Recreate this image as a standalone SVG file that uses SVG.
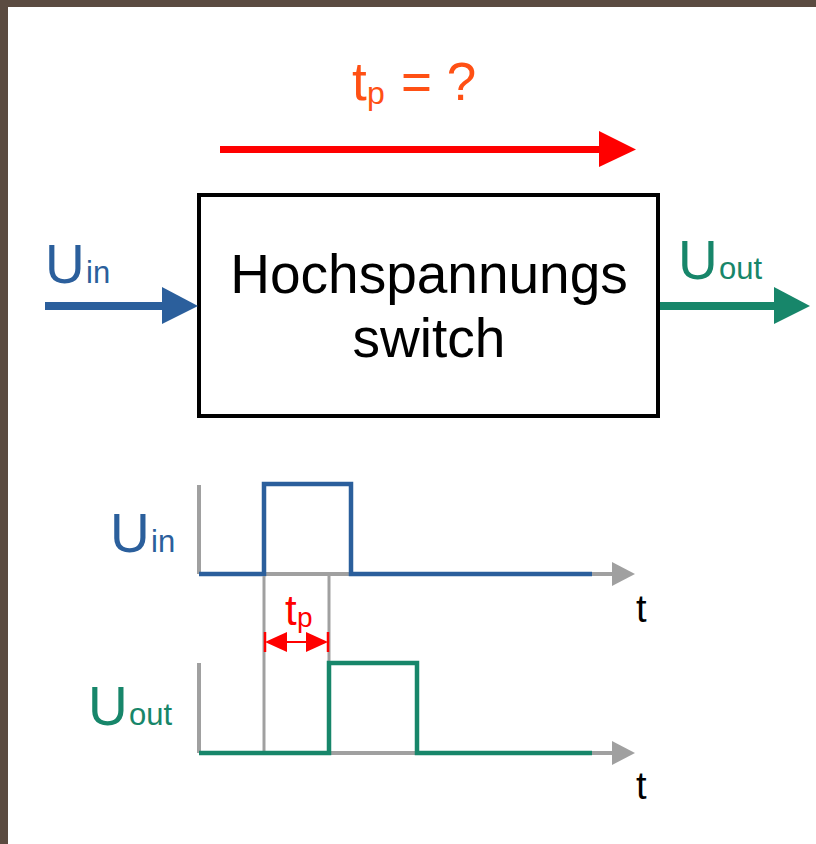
<svg xmlns="http://www.w3.org/2000/svg" width="816" height="844" viewBox="0 0 816 844">
<style>
text{font-family:"Liberation Sans",Arial,sans-serif}
.blue{fill:#2b5f9c}
.green{fill:#17866a}
.gray{stroke:#a0a0a0;fill:none}
.big{font-size:55px}
.sub{font-size:31px}
</style>
<rect x="0" y="0" width="816" height="844" fill="#5b4b41"/>
<rect x="8" y="7" width="808" height="837" fill="#ffffff"/>

<g id="title">
<text x="352" y="100" font-size="53" fill="#ff5014">t</text>
<text x="367" y="104" font-size="32" fill="#ff5014">p</text>
<text x="401" y="100" font-size="53" fill="#ff5014">= ?</text>
</g>

<g id="switch">
<rect x="199" y="195" width="459" height="221" fill="#ffffff" stroke="#000000" stroke-width="4"/>
<text x="429" y="293" font-size="55" text-anchor="middle" fill="#000000">Hochspannungs</text>
<text x="429" y="357" font-size="55" text-anchor="middle" fill="#000000">switch</text>
</g>

<g id="label-uin">
<text x="45" y="283" class="blue big">U</text>
<text x="86" y="283" class="blue sub">in</text>
</g>
<g id="label-uout">
<text x="678" y="279" class="green big">U</text>
<text x="719" y="279" class="green sub">out</text>
</g>

<g id="connectors">
<line x1="220" y1="149.5" x2="601" y2="149.5" stroke="#ff0000" stroke-width="7"/>
<polygon points="599,131 636,149.5 599,167" fill="#ff0000"/>
<line x1="45" y1="306" x2="164" y2="306" stroke="#2b5f9c" stroke-width="8"/>
<polygon points="162,287 198,306 162,324" fill="#2b5f9c"/>
<line x1="660" y1="306" x2="776" y2="306" stroke="#17866a" stroke-width="8"/>
<polygon points="774,287 810,306 774,324" fill="#17866a"/>
</g>

<g id="chart-uin">
<text x="110" y="552" class="blue big">U</text>
<text x="151" y="552" class="blue sub">in</text>
<line x1="199" y1="485" x2="199" y2="574" class="gray" stroke-width="4"/>
<line x1="199" y1="574" x2="614" y2="574" class="gray" stroke-width="4"/>
<polygon points="612,562 635,574 612,586" fill="#a0a0a0"/>
<polyline points="199,574 264,574 264,484 351,484 351,574 592,574" fill="none" stroke="#2b5f9c" stroke-width="4.5"/>
<text x="636" y="622" font-size="38" fill="#000000">t</text>
</g>

<g id="delay-marks">
<line x1="264" y1="576" x2="264" y2="751" class="gray" stroke-width="3"/>
<line x1="329" y1="576" x2="329" y2="662" class="gray" stroke-width="3"/>
<line x1="265" y1="632" x2="265" y2="652" stroke="#ff0000" stroke-width="2.5"/>
<line x1="328" y1="632" x2="328" y2="652" stroke="#ff0000" stroke-width="2.5"/>
<line x1="280" y1="642" x2="312" y2="642" stroke="#ff0000" stroke-width="2"/>
<polygon points="265,642 287,632 287,652" fill="#ff0000"/>
<polygon points="328,642 306,632 306,652" fill="#ff0000"/>
<text x="285" y="625" font-size="42" fill="#ff0000">t</text>
<text x="297" y="627" font-size="28" fill="#ff0000">p</text>
</g>

<g id="chart-uout">
<text x="88" y="725" class="green big">U</text>
<text x="129" y="725" class="green sub">out</text>
<line x1="199" y1="663" x2="199" y2="753" class="gray" stroke-width="4"/>
<line x1="199" y1="753" x2="614" y2="753" class="gray" stroke-width="4"/>
<polygon points="612,741 635,753 612,765" fill="#a0a0a0"/>
<polyline points="199,753 329,753 329,663 417,663 417,753 592,753" fill="none" stroke="#17866a" stroke-width="4.5"/>
<text x="636" y="799" font-size="38" fill="#000000">t</text>
</g>
</svg>
